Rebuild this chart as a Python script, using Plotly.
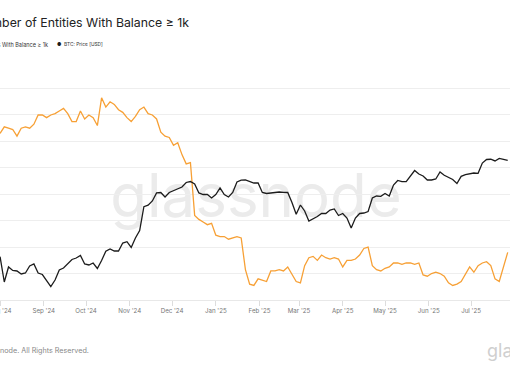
import pandas as pd
import plotly.graph_objects as go

# ---- data (3-day samples) ----
dates = pd.date_range("2024-08-01", periods=121, freq="3D")

entities_1k = [
    1506, 1511, 1510, 1509, 1504, 1510, 1511, 1510, 1513, 1520,
    1520, 1518, 1520, 1521, 1523, 1525, 1521, 1515, 1515, 1523,
    1517, 1520, 1518, 1512, 1533, 1526, 1530, 1528, 1524, 1522,
    1518, 1515, 1519, 1524, 1526, 1521, 1520, 1517, 1507, 1504,
    1503, 1497, 1499, 1490, 1483, 1484, 1444, 1441, 1439, 1437,
    1438, 1429, 1428, 1428, 1426, 1427, 1428, 1427, 1403, 1392,
    1391, 1396, 1395, 1394, 1402, 1402, 1403, 1402, 1405, 1399,
    1394, 1393, 1406, 1412, 1413, 1410, 1414, 1412, 1411, 1412,
    1411, 1405, 1410, 1410, 1411, 1414, 1419, 1420, 1406, 1403,
    1402, 1404, 1405, 1408, 1408, 1407, 1408, 1408, 1407, 1408,
    1399, 1398, 1400, 1401, 1400, 1398, 1393, 1391, 1392, 1394,
    1400, 1405, 1401, 1406, 1408, 1409, 1406, 1396, 1394, 1406,
    1416,
]

btc_price = [
    65370, 55730, 61250, 59920, 59730, 58610, 58980, 61650, 62430, 58980,
    58420, 56440, 54170, 56440, 60110, 60870, 62610, 64220, 64830, 65860,
    62430, 62030, 62810, 60680, 63810, 67620, 68610, 67750, 67750, 71250,
    71840, 69260, 73530, 77090, 89580, 90430, 92860, 97660, 97960, 95220,
    97960, 99200, 100140, 101410, 104330, 104980, 103360, 97660, 96730, 96730,
    94630, 96730, 100770, 96730, 95220, 97960, 104660, 105850, 105980, 104980,
    104000, 104000, 97960, 97350, 97660, 98260, 98260, 98080, 97960, 91960,
    85380, 90530, 87180, 81840, 82890, 84200, 85820, 85820, 87720, 88290,
    84740, 85820, 83410, 78310, 83410, 85820, 86080, 86900, 94630, 95820,
    95640, 97350, 95820, 102680, 105650, 104850, 104850, 108680, 112520, 110070,
    108680, 105980, 105980, 106660, 111450, 109160, 107640, 106320, 103670, 108480,
    109640, 110400, 110760, 110560, 117940, 120610, 120780, 119490, 121390, 120610,
    119870,
]

title_text = "Number of Entities With Balance ≥ 1k"
series_names = ["Number of Entities With Balance ≥ 1k", "BTC: Price [USD]"]
footer_text = "© 2025 Glassnode. All Rights Reserved."

ORANGE = "#f7a035"
BLACK = "#1c1c1c"
FONT = "Inter"

fig = go.Figure()
fig.add_trace(go.Scatter(x=dates, y=entities_1k, name=series_names[0], mode="lines",
                         line=dict(color=ORANGE, width=1.3), yaxis="y"))
fig.add_trace(go.Scatter(x=dates, y=btc_price, name=series_names[1], mode="lines",
                         line=dict(color=BLACK, width=1.3), yaxis="y2"))

fig.update_layout(
    width=510, height=369,
    margin=dict(l=0, r=0, t=80, b=69, autoexpand=False),
    paper_bgcolor="white", plot_bgcolor="white",
    showlegend=False,
    font=dict(family=FONT, color="#444"),
    title=dict(text=title_text, xref="container", x=189 / 510, xanchor="right",
               yref="container", y=1 - 23 / 369, yanchor="middle",
               font=dict(family=FONT, size=12.3, color="#222")),
    xaxis=dict(
        type="date",
        range=["2024-07-31 23:00", "2025-07-28 15:00"],
        dtick="M1", tickformat="%b '%y",
        ticks="outside", ticklen=5, tickcolor="#dddddd", tickwidth=1,
        showline=True, linecolor="#e8e8e8", linewidth=1,
        showgrid=False, zeroline=False,
        tickfont=dict(family=FONT, size=6.2, color="#777"),
        ticklabeloverflow="allow",
    ),
    yaxis=dict(
        range=[1380, 1546.47], dtick=20, tick0=1380,
        showgrid=True, gridcolor="#eeeeee", gridwidth=1,
        showticklabels=False, zeroline=False, ticks="",
    ),
    yaxis2=dict(
        type="log", range=[4.6968, 5.2989], overlaying="y", side="right",
        showgrid=False, showticklabels=False, zeroline=False, ticks="",
    ),
)

# watermark below the data
fig.add_shape(type="rect", xref="paper", yref="paper",
              x0=100 / 510, x1=412 / 510, y0=(300 - 230) / 220, y1=(300 - 155) / 220,
              line=dict(width=0), fillcolor="rgba(0,0,0,0)", layer="below",
              label=dict(text="glassnode", textposition="middle center",
                         font=dict(family=FONT, size=60, color="#ebebeb")))

# legend row
fig.add_annotation(xref="paper", yref="paper", x=50 / 510, y=(300 - 44) / 220,
                   xanchor="right", yanchor="middle", showarrow=False,
                   text=f"<span style='color:{ORANGE}'>●</span>  {series_names[0]}",
                   font=dict(family=FONT, size=5.5, color="#333"))
fig.add_annotation(xref="paper", yref="paper", x=55 / 510, y=(300 - 44) / 220,
                   xanchor="left", yanchor="middle", showarrow=False,
                   text=f"<span style='color:{BLACK}'>●</span>  {series_names[1]}",
                   font=dict(family=FONT, size=4.8, color="#333"))

# footer
fig.add_annotation(xref="paper", yref="paper", x=91 / 510, y=(300 - 350) / 220,
                   xanchor="right", yanchor="middle", showarrow=False,
                   text=footer_text, font=dict(family=FONT, size=7.2, color="#888"))
fig.add_annotation(xref="paper", yref="paper", x=485 / 510, y=(300 - 350) / 220,
                   xanchor="left", yanchor="middle", showarrow=False,
                   text="glassnode", font=dict(family=FONT, size=18, color="#cfcfcf"))

fig.write_html("out.html", config={"displayModeBar": False},
               post_script="document.body.style.margin='0';document.body.style.padding='0';")
